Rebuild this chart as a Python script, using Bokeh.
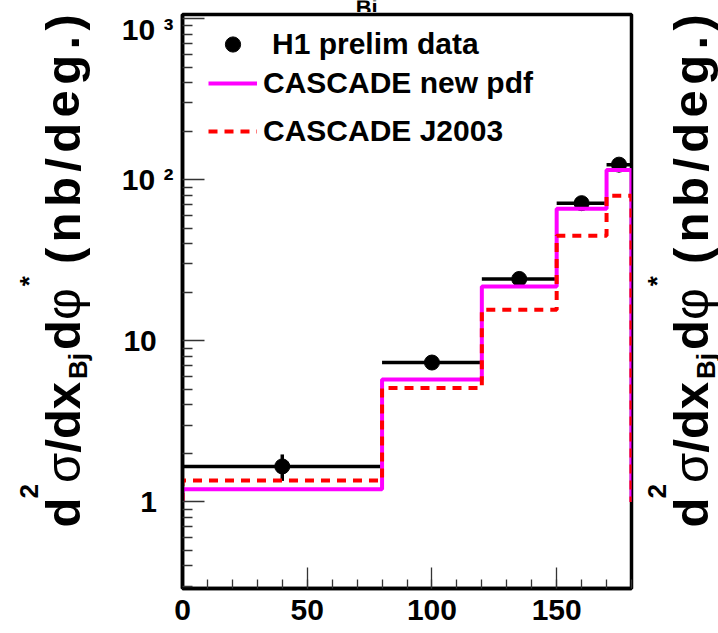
import math
from bokeh.plotting import figure
from bokeh.layouts import row, column
from bokeh.models import Range1d, FixedTicker, Legend, LegendItem, ColumnDataSource
from bokeh.core.properties import value
from bokeh.embed import file_html
from bokeh.resources import INLINE

# ---------------- data ----------------
bin_edges = [0, 80, 120, 150, 170, 180]
data_y = [1.66, 7.33, 24.2, 71.5, 124.0]
data_err = [0.31, 0.6, 1.8, 5.0, 8.0]
new_pdf = [1.20, 5.75, 21.7, 66.0, 115.0]
j2003 = [1.36, 5.10, 15.6, 44.9, 79.6]
hist_floor = 1.0
x_ticks = [0, 50, 100, 150]
x_minor = list(range(0, 181, 10))
y_ticks = [1, 10, 100, 1000]
y_minor = [m * 10 ** e for e in (-1, 0, 1, 2) for m in range(2, 10) if m * 10 ** e >= 0.3]
y_tick_text = {1: "1\u2007", 10: "10\u2007", 100: "10 \u00b2", 1000: "10 \u00b3"}
legend_labels = ["H1 prelim data", "CASCADE new pdf", "CASCADE J2003"]
top_fragment = "Bj"

FONT = "Liberation Sans"
W, H = 718, 633
LW, RW, TH = 100, 84, 12          # side strips
FL, FB = 182, 588                 # frame left / bottom on the page (px)
MW = W - LW - RW                  # main figure width

# ---------------- main plot ----------------
p = figure(width=MW, height=H - TH, x_range=Range1d(0, 180), y_range=Range1d(0.29, 1060),
           y_axis_type="log", output_backend="svg", toolbar_location=None,
           min_border_left=FL - LW, min_border_right=3, min_border_top=2, min_border_bottom=45)
p.grid.visible = False
p.outline_line_color = "black"
p.outline_line_width = 3.5
p.background_fill_color = "white"
p.border_fill_color = "white"

for ax in (p.xaxis, p.yaxis):
    ax.axis_line_width = 3.5
    ax.axis_line_color = "black"
    ax.major_tick_out = 0
    ax.minor_tick_out = 0
    ax.major_tick_line_color = "#333333"
    ax.minor_tick_line_color = "#333333"
    ax.major_tick_line_width = 1.3
    ax.minor_tick_line_width = 1.3
    ax.major_label_text_font = FONT
    ax.major_label_text_font_style = "bold"
    ax.major_label_text_font_size = "30px"
    ax.major_label_text_color = "black"

p.xaxis.ticker = FixedTicker(ticks=x_ticks, minor_ticks=x_minor)
p.xaxis.major_tick_in = 21
p.xaxis.minor_tick_in = 9
p.xaxis.major_label_standoff = 11

p.yaxis.ticker = FixedTicker(ticks=y_ticks, minor_ticks=y_minor)
p.yaxis.major_tick_in = 22
p.yaxis.minor_tick_in = 10
p.yaxis.major_label_standoff = 9
p.yaxis.major_label_overrides = y_tick_text

# data points with bin-width horizontal bars and vertical error bars
centers = [(a + b) / 2 for a, b in zip(bin_edges[:-1], bin_edges[1:])]
src = ColumnDataSource(dict(
    x=centers, y=data_y, lo=bin_edges[:-1], hi=bin_edges[1:],
    ylo=[v - e for v, e in zip(data_y, data_err)],
    yhi=[v + e for v, e in zip(data_y, data_err)]))
p.segment(x0="lo", x1="hi", y0="y", y1="y", source=src, line_color="black", line_width=3.5)
p.segment(x0="x", x1="x", y0="ylo", y1="yhi", source=src, line_color="black", line_width=3.5)
pts = p.scatter(x="x", y="y", source=src, size=15, color="black")


def outline(edges, vals, floor):
    xs, ys = [edges[0]], [floor]
    for i, v in enumerate(vals):
        xs += [edges[i], edges[i + 1]]
        ys += [v, v]
    xs.append(edges[-1])
    ys.append(floor)
    return xs, ys


xs1, ys1 = outline(bin_edges, new_pdf, hist_floor)
l_new = p.line(xs1, ys1, line_color="#ff00ff", line_width=4)
xs2, ys2 = outline(bin_edges, j2003, hist_floor)
l_j = p.line(xs2, ys2, line_color="#ff0000", line_width=4, line_dash="9 7")

# legend: three single-row legends (rows are unevenly spaced in the reference)
rows = [(pts, 44.4, 15), (l_new, 82.7, 6), (l_j, 131.2, 6)]
for (r, cy, standoff), lab in zip(rows, legend_labels):
    gh = 38
    leg = Legend(items=[LegendItem(label=lab, renderers=[r])],
                 location=(208 - FL, FB - (cy + gh / 2)),
                 glyph_width=49, glyph_height=gh, label_height=gh, label_standoff=standoff,
                 label_text_font=FONT, label_text_font_style="bold", label_text_font_size="30px",
                 label_text_color="black", label_text_baseline="middle",
                 border_line_alpha=0, background_fill_alpha=0, padding=0, margin=0, spacing=0)
    p.add_layout(leg)


# ---------------- helper strips (pixel coordinates) ----------------
def strip(w, h):
    f = figure(width=w, height=h, x_range=Range1d(0, w), y_range=Range1d(0, h),
               x_axis_type=None, y_axis_type=None, output_backend="svg", toolbar_location=None,
               min_border=0)
    f.grid.visible = False
    f.outline_line_color = None
    f.background_fill_color = "white"
    f.border_fill_color = "white"
    return f


top = strip(MW, TH)
top.text(x=[306 - LW], y=[TH - 7], text=[top_fragment], text_font=value(FONT),
         text_font_style="bold", text_font_size="22px", text_align="left",
         text_baseline="alphabetic", text_color="black")

# rotated y title: d^2 sigma / dx_Bj d phi^* (nb/deg.)
F, S = 49, 26
pieces = [  # text, size, bold, advance (em), perpendicular offset (px), gap before (px)
    ("d", F, True, 0.611, 0, 0),
    ("2", S, True, 0.556, 34, -1),
    ("\u03c3", F, False, 0.62, 0, 1),
    ("/dx", F, True, 1.445, 0, 0),
    ("Bj", S, True, 1.0, -15, 3),
    ("d", F, True, 0.611, 0, 3),
    ("\u03c6", F, False, 0.71, 0, 0),
    ("*", S, True, 0.389, 34, -1),
]
unit_chars = [("(", 0.333), ("n", 0.611), ("b", 0.611), ("/", 0.278), ("d", 0.611),
              ("e", 0.556), ("g", 0.611), (".", 0.278), (")", 0.333)]
START_Y, END_Y = 527, 17


def title_source(base_x):
    xs, ys, ts, szs, sts = [], [], [], [], []
    u = 0.0
    for t, sz, bold, adv, v, gap in pieces:
        u += gap
        xs.append(base_x - v); ys.append(H - START_Y + u); ts.append(t)
        szs.append(f"{sz}px"); sts.append("bold" if bold else "normal")
        u += adv * sz
    u += 12
    natural = sum(a for _, a in unit_chars[:-1]) * F
    room = (START_Y - END_Y) - u - unit_chars[-1][1] * F * 0.8
    track = (room - natural) / (len(unit_chars) - 1)
    for t, adv in unit_chars:
        xs.append(base_x); ys.append(H - START_Y + u); ts.append(t)
        szs.append(f"{F}px"); sts.append("bold")
        u += adv * F + track
    return ColumnDataSource(dict(x=xs, y=ys, text=ts, size=szs, style=sts))


left = strip(LW, H)
right = strip(RW, H)
for fig, bx in ((left, 62), (right, 690 - (W - RW))):
    fig.text(x="x", y="y", text="text", source=title_source(bx), angle=math.pi / 2,
             text_font=value(FONT), text_font_size="size", text_font_style="style",
             text_align="left", text_baseline="alphabetic", text_color="black")

layout = row(left, column(top, p, spacing=0), right, spacing=0)
open("out.html", "w").write(file_html(layout, INLINE))
